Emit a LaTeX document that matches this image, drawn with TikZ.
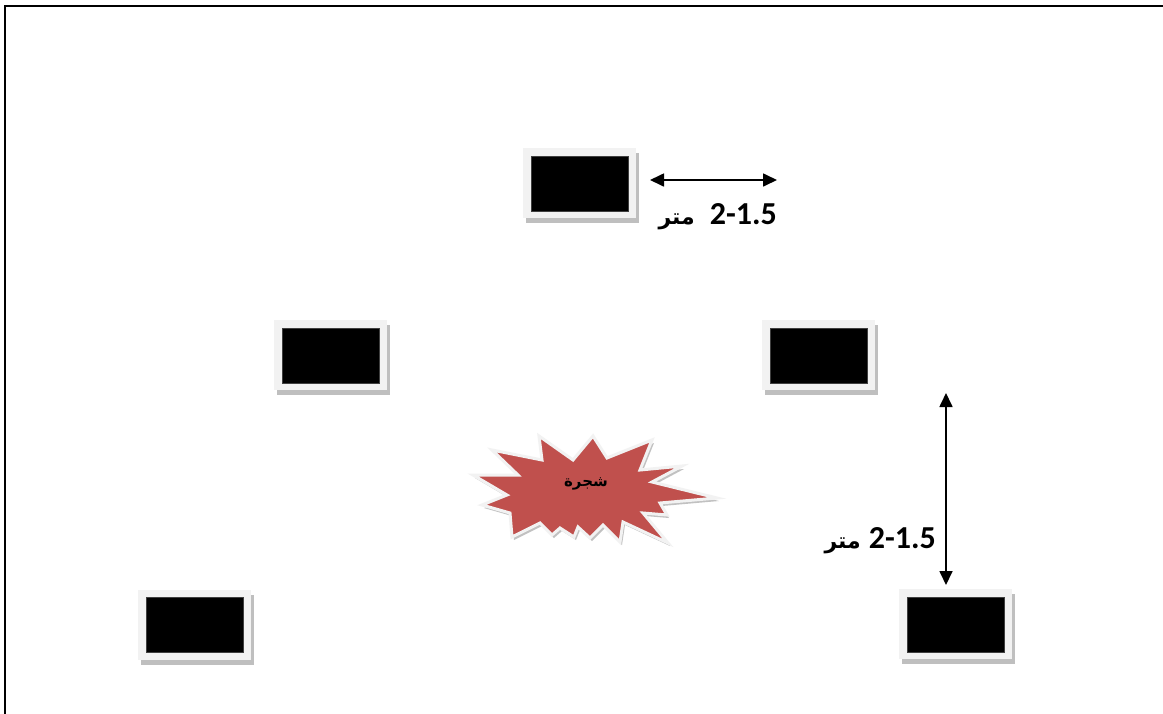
\documentclass[tikz,border=0pt]{standalone}
\usepackage{fontspec}
\usetikzlibrary{arrows.meta}
\TeXXeTstate=1
\newfontfamily\arabicfont[Script=Arabic]{DejaVu Sans}
\newfontfamily\digitfont{Carlito}
\definecolor{boxgray}{HTML}{F2F2F2}
\definecolor{shadowgray}{HTML}{BFBFBF}
\definecolor{burstred}{HTML}{C0504D}
\begin{document}
\begin{tikzpicture}[x=1pt,y=-1pt,
  outerbox/.style={rectangle, inner sep=0pt, minimum width=113pt, minimum height=70pt,
    fill=boxgray,
    preaction={fill=shadowgray, transform canvas={xshift=3pt,yshift=-5pt}}},
  innerbox/.style={rectangle, inner sep=0pt, minimum width=97pt, minimum height=55pt,
    fill=black, draw=black!75, line width=0.6pt},
  dimarrow/.style={line width=1.7pt, {Triangle[length=14pt,width=13pt]}-{Triangle[length=14pt,width=13pt]}},
  lbl/.style={inner sep=0pt, font=\bfseries}
]
\useasboundingbox (0,0) rectangle (1163,713);
\fill[white] (0,0) rectangle (1163,713);
% frame
\draw[line width=2pt] (5,720) -- (5,6) -- (1170,6);

% boxes
\node[outerbox] (top) at (579.5,183) {};
\node[innerbox] (top-in) at (579.5,183.5) {};
\node[outerbox] (midL) at (330.5,355) {};
\node[innerbox] (midL-in) at (330.5,355.5) {};
\node[outerbox] (midR) at (818.5,355) {};
\node[innerbox] (midR-in) at (818.5,355.5) {};
\node[outerbox] (botL) at (194,625) {};
\node[innerbox] (botL-in) at (194.5,625) {};
\node[outerbox] (botR) at (955.5,623.5) {};
\node[innerbox] (botR-in) at (955.5,624.5) {};

% dimension arrows
\coordinate (h1) at (650,180);
\coordinate (h2) at (777,180);
\coordinate (v1) at (946,393);
\coordinate (v2) at (946,585);
\draw[dimarrow] (h1) -- (h2);
\draw[dimarrow] (v1) -- (v2);

% labels
\node[lbl, anchor=base east] (lblT) at (777,224)
  {{\arabicfont\fontsize{22}{25}\selectfont\beginR متر\endR}\hspace{15pt}{\digitfont\fontsize{32}{36}\selectfont 2-1.5}};
\node[lbl, anchor=base east] (lblV) at (936,548)
  {{\arabicfont\fontsize{22}{25}\selectfont\beginR متر\endR}\hspace{8pt}{\digitfont\fontsize{32}{36}\selectfont 2-1.5}};

% burst (tree)
\def\burstpath{(539,436) -- (573,460) -- (593,436) -- (607,458) -- (652,440) -- (640,470)
  -- (682,466) -- (652,482) -- (717,498) -- (660,503) -- (667,515) -- (643,513)
  -- (668,543) -- (623,522) -- (620,542) -- (603,525) -- (590,538) -- (578,527)
  -- (574,537) -- (560,528) -- (552,535) -- (540,523) -- (512,537) -- (510,513)
  -- (482,505) -- (507,495) -- (473,475) -- (518,475) -- (492,450) -- (542,460) -- cycle}
\fill[shadowgray!80!black, opacity=0.6, shift={(2,3)}] \burstpath;
\filldraw[fill=burstred, draw=boxgray, line width=3pt, line join=miter] \burstpath;
\node[lbl] (tree) at (586,484) {\arabicfont\fontsize{15}{18}\selectfont\beginR شجرة\endR};
\end{tikzpicture}
\end{document}
